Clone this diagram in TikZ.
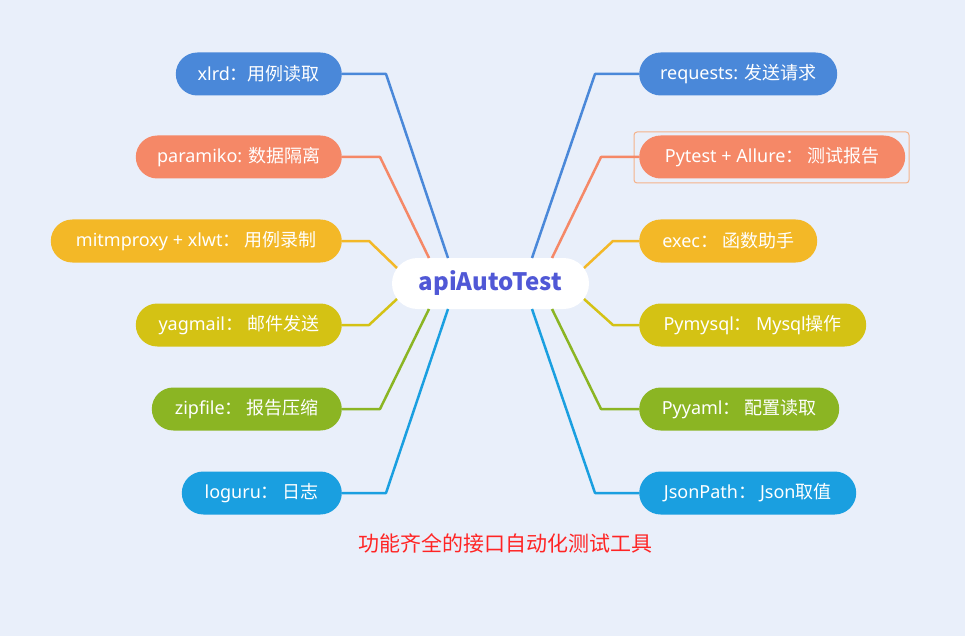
\documentclass[tikz,border=0pt]{standalone}
\usepackage{fontspec}
\setmainfont{Noto Sans}
\newfontfamily\cjk{Noto Sans CJK SC}
\newcommand\zh[1]{{\cjk #1}}
\definecolor{bgc}{HTML}{E9EFFA}
\definecolor{cBlue}{HTML}{4A88D9}
\definecolor{cSalmon}{HTML}{F58867}
\definecolor{cYellow}{HTML}{F3B827}
\definecolor{cOlive}{HTML}{D4C214}
\definecolor{cGreen}{HTML}{8BB523}
\definecolor{cCyan}{HTML}{1A9FE0}
\definecolor{cTitle}{HTML}{5058D6}
\definecolor{cSel}{HTML}{F5B28A}
\definecolor{cRed}{HTML}{FF2424}
\begin{document}
\begin{tikzpicture}[x=1pt,y=-1pt,
  leaf/.style={rectangle, rounded corners=21.5pt, minimum height=43pt, inner sep=0pt,
    text=white, font=\fontsize{18}{21}\selectfont},
  lleaf/.style={leaf, anchor=east},
  rleaf/.style={leaf, anchor=west},
  conn/.style={line width=2.5pt, line join=round}]
\fill[bgc] (0,0) rectangle (965,636);
\useasboundingbox (0,0) rectangle (965,636);

% centre
\node[rectangle, rounded corners=25.5pt, fill=white, minimum width=197pt, minimum height=51pt,
  inner sep=0pt, text=cTitle, font=\cjk\bfseries\fontsize{24}{28}\selectfont] (center) at (490.5,283.5) {apiAutoTest};

% left leaves
\node[lleaf, fill=cBlue,   minimum width=166pt] (xlrd) at (342,74)  {xlrd\zh{：用例读取}};
\node[lleaf, fill=cSalmon, minimum width=206pt] (para) at (342,157) {paramiko: \zh{数据隔离}};
\node[lleaf, fill=cYellow, minimum width=291pt] (mitm) at (342,241) {mitmproxy + xlwt\zh{： 用例录制}};
\node[lleaf, fill=cOlive,  minimum width=206pt] (yag)  at (342,325) {yagmail\zh{： 邮件发送}};
\node[lleaf, fill=cGreen,  minimum width=190pt] (zip)  at (342,409) {zipfile\zh{： 报告压缩}};
\node[lleaf, fill=cCyan,   minimum width=160pt] (logu) at (342,493) {loguru\zh{： 日志}};

% right leaves
\node[rleaf, fill=cBlue,   minimum width=198pt] (req)  at (639,74)  {requests: \zh{发送请求}};
\node[rleaf, fill=cSalmon, minimum width=266pt] (pyt)  at (639,157) {Pytest + Allure\zh{： 测试报告}};
\node[rleaf, fill=cYellow, minimum width=178pt] (exec) at (639,241) {exec\zh{： 函数助手}};
\node[rleaf, fill=cOlive,  minimum width=227pt] (pym)  at (639,325) {Pymysql\zh{： }Mysql\zh{操作}};
\node[rleaf, fill=cGreen,  minimum width=200pt] (pyy)  at (639,409) {Pyyaml\zh{： 配置读取}};
\node[rleaf, fill=cCyan,   minimum width=217pt] (json) at (639,493) {JsonPath\zh{： }Json\zh{取值}};

% selection frame around Pytest node
\node[draw=cSel, line width=1pt, rounded corners=3pt, fill=none, inner sep=0pt,
  minimum width=275pt, minimum height=51pt] (sel) at (771.5,157.5) {};

% attachment points on the centre node
\coordinate (L1) at (448,258); \coordinate (L2) at (429,258); \coordinate (L3) at (397,268);
\coordinate (L4) at (397,299); \coordinate (L5) at (429,309); \coordinate (L6) at (448,309);
\coordinate (R1) at (532,258); \coordinate (R2) at (552,258); \coordinate (R3) at (584,268);
\coordinate (R4) at (584,299); \coordinate (R5) at (552,309); \coordinate (R6) at (532,309);

% connectors
\draw[conn, cBlue]   (xlrd.east) -- ++(44,0) -- (L1);
\draw[conn, cSalmon] (para.east) -- ++(38,0) -- (L2);
\draw[conn, cYellow] (mitm.east) -- ++(27,0) -- (L3);
\draw[conn, cOlive]  (yag.east)  -- ++(27,0) -- (L4);
\draw[conn, cGreen]  (zip.east)  -- ++(38,0) -- (L5);
\draw[conn, cCyan]   (logu.east) -- ++(44,0) -- (L6);

\draw[conn, cBlue]   (req.west)  -- ++(-44,0) -- (R1);
\draw[conn, cSalmon] (pyt.west)  -- ++(-38,0) -- (R2);
\draw[conn, cYellow] (exec.west) -- ++(-26,0) -- (R3);
\draw[conn, cOlive]  (pym.west)  -- ++(-26,0) -- (R4);
\draw[conn, cGreen]  (pyy.west)  -- ++(-38,0) -- (R5);
\draw[conn, cCyan]   (json.west) -- ++(-44,0) -- (R6);

% caption
\node[text=cRed, font=\cjk\fontsize{21}{25}\selectfont, inner sep=0pt] (cap) at (505,543) {功能齐全的接口自动化测试工具};
\end{tikzpicture}
\end{document}
